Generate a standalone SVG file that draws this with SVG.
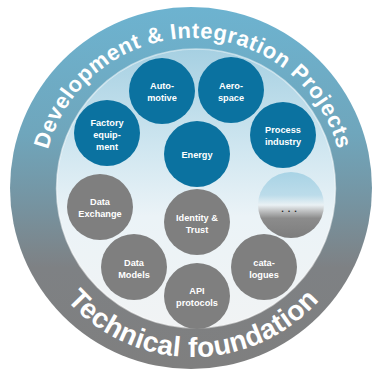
<svg xmlns="http://www.w3.org/2000/svg" width="373" height="373" viewBox="0 0 373 373">
  <defs>
    <linearGradient id="ringGrad" x1="0" y1="0" x2="0" y2="1">
      <stop offset="0" stop-color="#6db3d0"/>
      <stop offset="0.35" stop-color="#6fa6bc"/>
      <stop offset="0.55" stop-color="#7693a0"/>
      <stop offset="0.72" stop-color="#7e8184"/>
      <stop offset="1" stop-color="#7f7f7f"/>
    </linearGradient>
    <linearGradient id="innerGrad" x1="0" y1="0" x2="0" y2="1">
      <stop offset="0" stop-color="#a6d0e2"/>
      <stop offset="0.35" stop-color="#cfe6f0"/>
      <stop offset="0.6" stop-color="#ebf3f7"/>
      <stop offset="1" stop-color="#f1f3f4"/>
    </linearGradient>
    <linearGradient id="moreGrad" x1="0" y1="0" x2="0" y2="1">
      <stop offset="0" stop-color="#a8d3e5"/>
      <stop offset="0.35" stop-color="#bcdcea"/>
      <stop offset="0.5" stop-color="#eaf1f4"/>
      <stop offset="0.58" stop-color="#c4c6c7"/>
      <stop offset="0.7" stop-color="#8c8c8c"/>
      <stop offset="1" stop-color="#7d7d7d"/>
    </linearGradient>
    <path id="topArc" d="M 43 188 A 150 150 0 0 1 343 188"/>
    <path id="botArc" d="M 24 188 A 169 169 0 0 0 362 188"/>
  </defs>
  <style>
    .blue { fill: #0b72a0; }
    .gray { fill: #7f7f7f; }
    .lbl { fill: #ffffff; font-family: "Liberation Sans", Arial, sans-serif; font-weight: bold; font-size: 9.2px; text-anchor: middle; }
    .ring { fill: #ffffff; font-family: "Liberation Sans", Arial, sans-serif; font-weight: bold; text-anchor: middle; }
  </style>
  <g id="ring">
    <circle cx="191" cy="188" r="181" fill="url(#ringGrad)"/>
    <circle cx="196" cy="188.5" r="139.5" fill="url(#innerGrad)" stroke="#ffffff" stroke-opacity="0.5" stroke-width="1.5"/>
    <text class="ring" font-size="22" letter-spacing="0.6"><textPath href="#topArc" startOffset="50%">Development &amp; Integration  Projects</textPath></text>
    <text class="ring" font-size="28" letter-spacing="0.3"><textPath href="#botArc" startOffset="50%">Technical foundation</textPath></text>
  </g>
  <g id="connectors"/>
  <g id="automotive">
    <circle class="blue" cx="162" cy="91" r="33"/>
    <text class="lbl" x="162" y="89">Auto-</text>
    <text class="lbl" x="162" y="101">motive</text>
  </g>
  <g id="aerospace">
    <circle class="blue" cx="231" cy="90" r="33"/>
    <text class="lbl" x="231" y="89">Aero-</text>
    <text class="lbl" x="231" y="101">space</text>
  </g>
  <g id="factory">
    <circle class="blue" cx="107" cy="133" r="33"/>
    <text class="lbl" x="107" y="126">Factory</text>
    <text class="lbl" x="107" y="138">equip-</text>
    <text class="lbl" x="107" y="150">ment</text>
  </g>
  <g id="energy">
    <circle class="blue" cx="197" cy="154" r="33"/>
    <text class="lbl" x="197" y="158">Energy</text>
  </g>
  <g id="process">
    <circle class="blue" cx="283" cy="135" r="33"/>
    <text class="lbl" x="283" y="133">Process</text>
    <text class="lbl" x="283" y="145">industry</text>
  </g>
  <g id="data-exchange">
    <circle class="gray" cx="100" cy="207" r="33"/>
    <text class="lbl" x="100" y="205">Data</text>
    <text class="lbl" x="100" y="217">Exchange</text>
  </g>
  <g id="identity">
    <circle class="gray" cx="197" cy="222" r="33"/>
    <text class="lbl" x="197" y="221">Identity &amp;</text>
    <text class="lbl" x="197" y="233">Trust</text>
  </g>
  <g id="more">
    <circle cx="291" cy="205" r="33" fill="url(#moreGrad)"/>
    <text class="lbl" x="291" y="212" style="fill:#222222;letter-spacing:4px">...</text>
  </g>
  <g id="data-models">
    <circle class="gray" cx="134" cy="267" r="33"/>
    <text class="lbl" x="134" y="266">Data</text>
    <text class="lbl" x="134" y="278">Models</text>
  </g>
  <g id="catalogues">
    <circle class="gray" cx="264" cy="267" r="33"/>
    <text class="lbl" x="264" y="266">cata-</text>
    <text class="lbl" x="264" y="278">logues</text>
  </g>
  <g id="api">
    <circle class="gray" cx="197" cy="296" r="33"/>
    <text class="lbl" x="197" y="294">API</text>
    <text class="lbl" x="197" y="306">protocols</text>
  </g>
</svg>
